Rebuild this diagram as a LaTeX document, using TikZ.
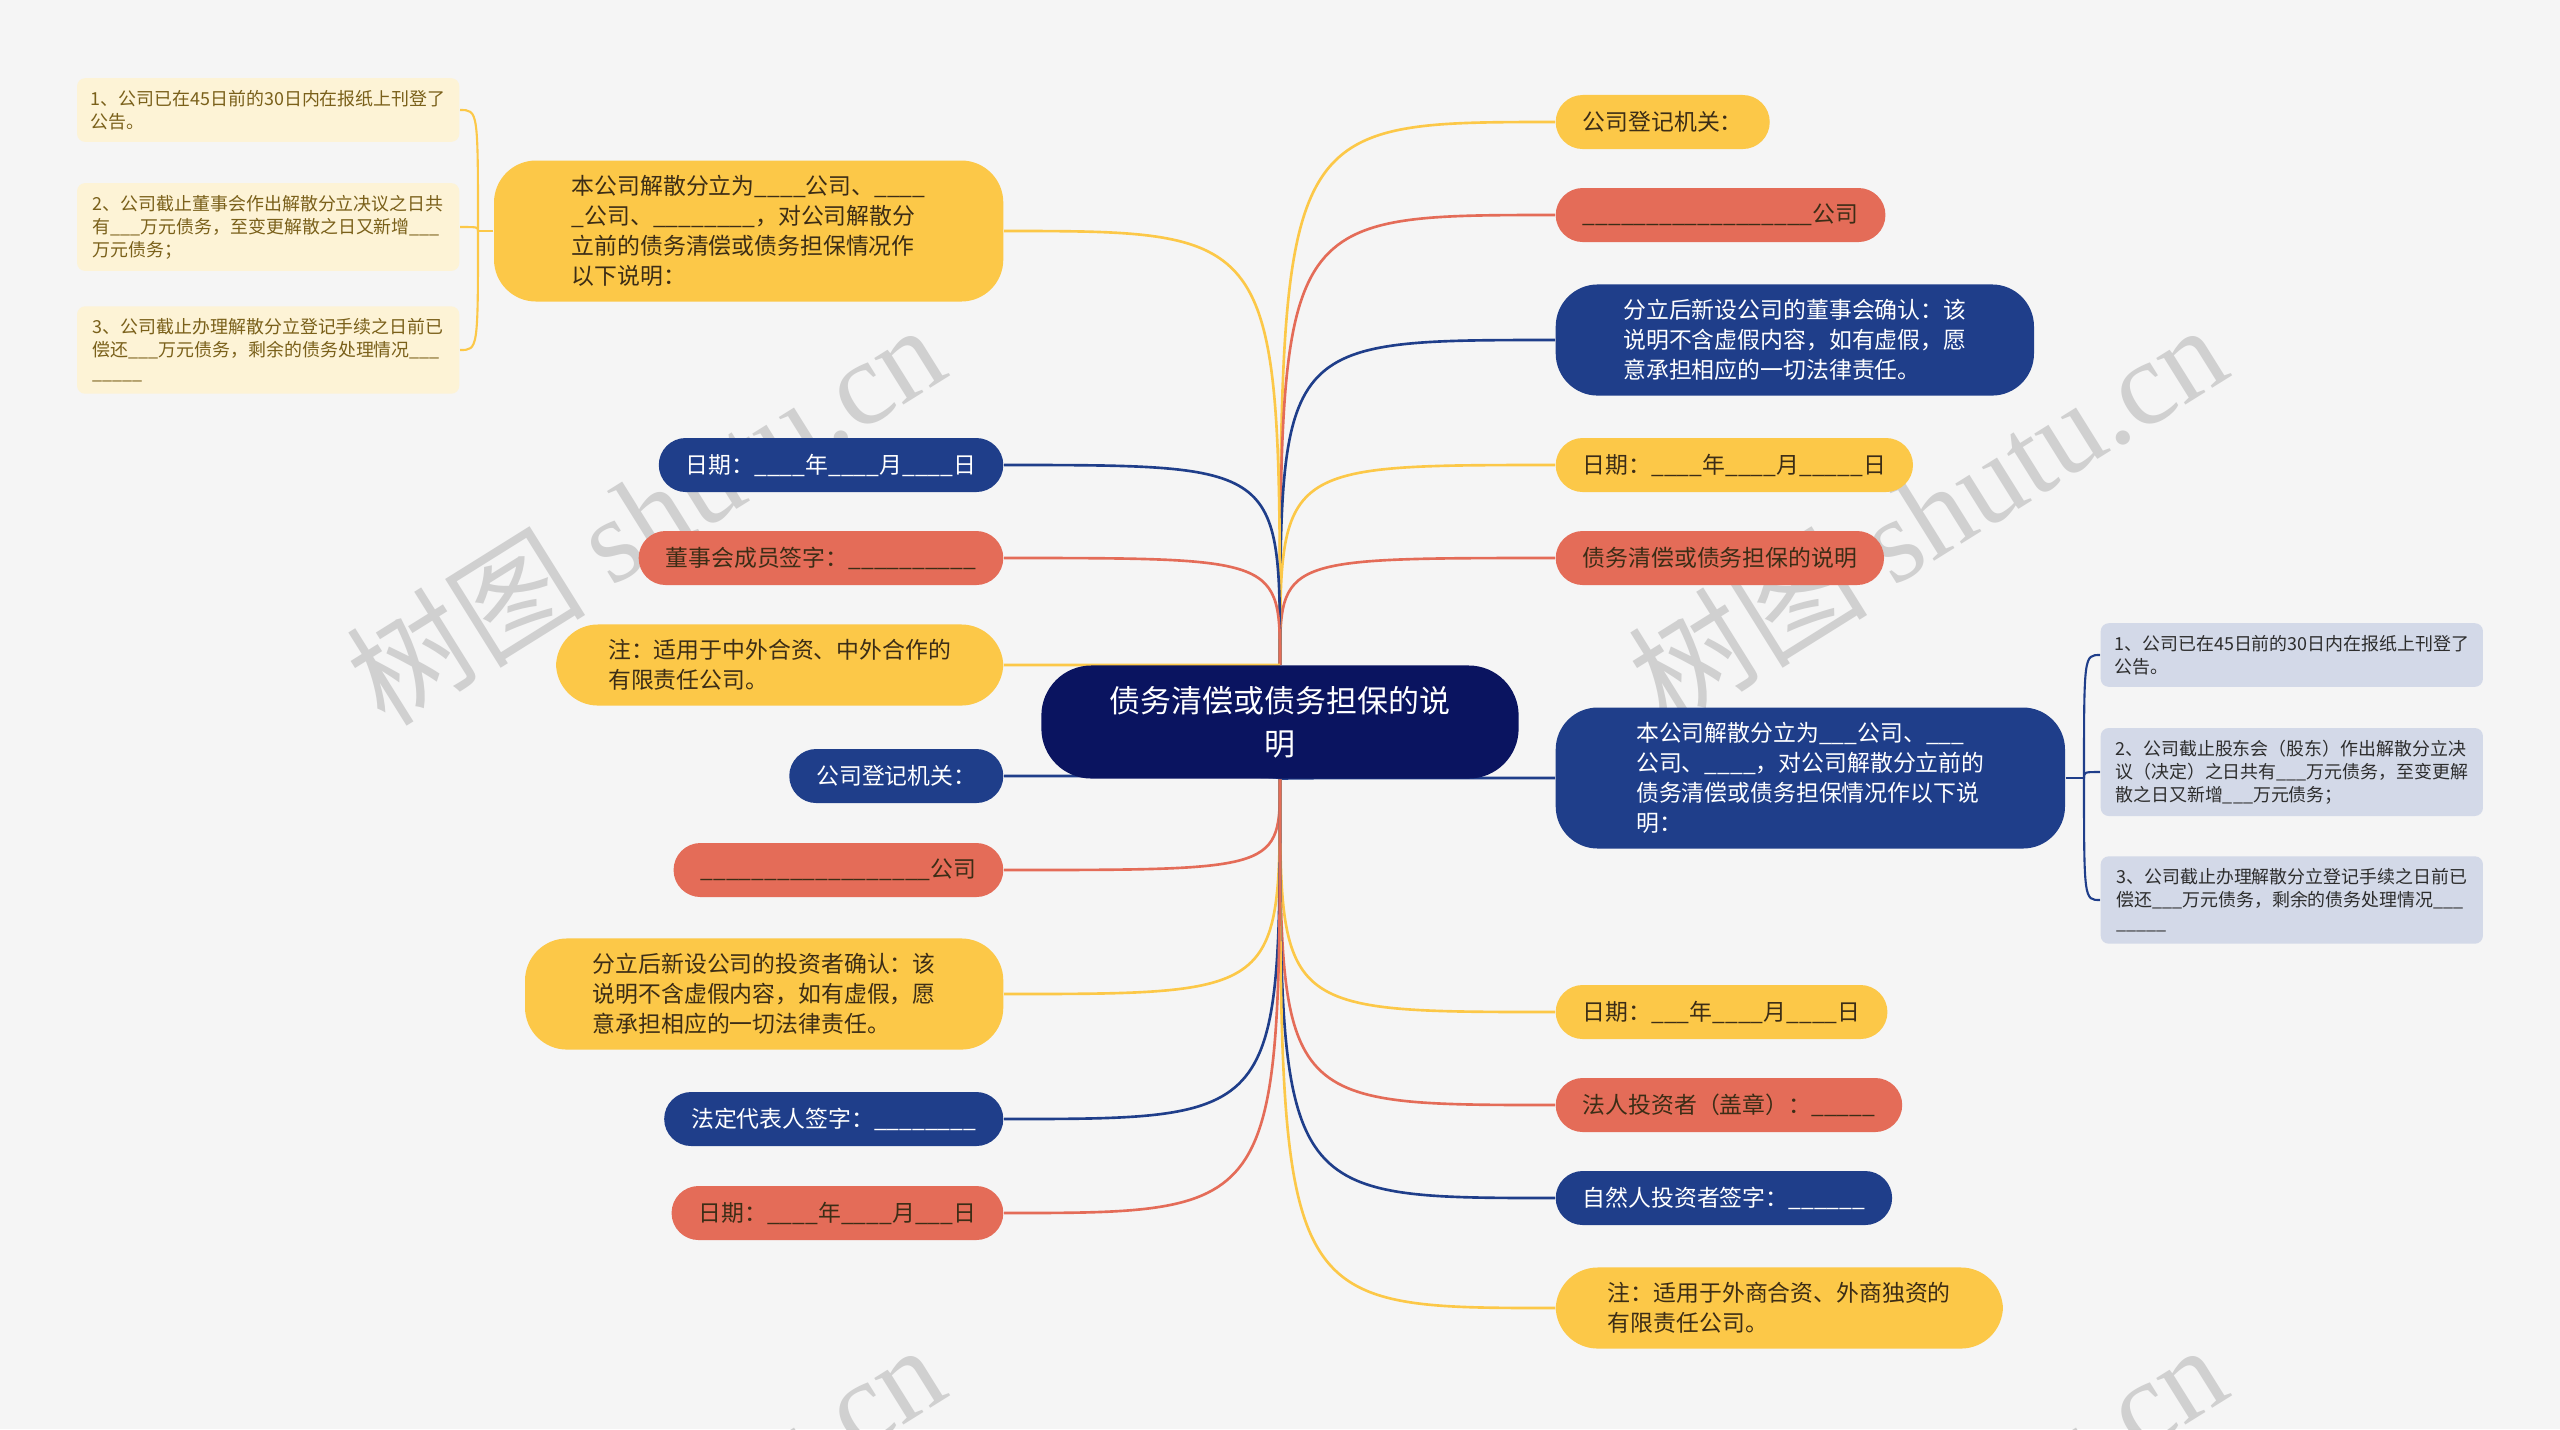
\documentclass[tikz,border=0pt]{standalone}
\usepackage{fontspec}
\setmainfont{Noto Sans CJK SC}
\newfontfamily\wmfont{Liberation Serif}
\usepackage{tikz}
\usetikzlibrary{positioning}
\usepackage{xcolor}
\definecolor{mmbg}{RGB}{245,245,245}
\definecolor{mmyellow}{RGB}{252,200,72}
\definecolor{mmred}{RGB}{228,108,88}
\definecolor{mmblue}{RGB}{31,62,138}
\definecolor{mmnavy}{RGB}{10,20,96}
\definecolor{mmcream}{RGB}{253,243,214}
\definecolor{mmpale}{RGB}{211,217,232}
\definecolor{mmink}{RGB}{60,45,22}
\definecolor{mmbrown}{RGB}{122,96,26}
\definecolor{mmgrey}{RGB}{45,45,45}
\definecolor{mmwm}{RGB}{208,208,208}

\pgfdeclarelayer{back}
\pgfsetlayers{back,main}

\newcommand\blank[1]{\foreach\k in {1,...,#1}{\_}}

\tikzset{
  topic/.style={rounded corners=0.27cm, minimum height=0.54cm, inner xsep=0.27cm, inner ysep=0.15cm,
    font=\fontsize{6.5}{8.5}\selectfont, align=left},
  ytopic/.style={topic, fill=mmyellow, text=mmink},
  rtopic/.style={topic, fill=mmred, text=mmink},
  btopic/.style={topic, fill=mmblue, text=white},
  multi/.style={rounded corners=0.42cm, inner xsep=0.5cm},
  subtopic/.style={rounded corners=0.08cm, inner xsep=0.12cm, inner ysep=0.12cm, minimum width=3.82cm,
    font=\fontsize{5.1}{6.5}\selectfont, align=left},
  link/.style={line width=0.75pt},
  sublink/.style={line width=0.6pt},
}

\begin{document}
\begin{tikzpicture}[x=0.01cm, y=-0.01cm]
\useasboundingbox (0,0) rectangle (2560,1429);

% Centre
\node[fill=mmnavy, text=white, rounded corners=0.5cm, minimum width=4.77cm, minimum height=1.13cm,
  align=center, font=\fontsize{8.8}{12.3}\selectfont] (C) at (1280,722) {债务清偿或债务担保的说\\明};

% Right side
\node[ytopic, anchor=west] (r1) at (1555,122) {公司登记机关：};
\node[rtopic, anchor=west] (r2) at (1555,215) {\blank{18}公司};
\node[btopic, multi, minimum width=4.78cm, anchor=west] (r3) at (1555,340)
  {分立后新设公司的董事会确认：该\\说明不含虚假内容，如有虚假，愿\\意承担相应的一切法律责任。};
\node[ytopic, anchor=west] (r4) at (1555,465) {日期：\blank4年\blank4月\blank5日};
\node[rtopic, anchor=west] (r5) at (1555,558) {债务清偿或债务担保的说明};
\node[btopic, multi, minimum width=5.09cm, anchor=west] (r6) at (1555,778)
  {本公司解散分立为\blank3公司、\blank3\\公司、\blank4，对公司解散分立前的\\债务清偿或债务担保情况作以下说\\明：};
\node[ytopic, anchor=west] (r7) at (1555,1012) {日期：\blank3年\blank4月\blank4日};
\node[rtopic, anchor=west] (r8) at (1555,1105) {法人投资者（盖章）：\blank5};
\node[btopic, anchor=west] (r9) at (1555,1198) {自然人投资者签字：\blank6};
\node[ytopic, multi, minimum width=4.47cm, anchor=west] (r10) at (1555,1308)
  {注：适用于外商合资、外商独资的\\有限责任公司。};

% Right details
\node[subtopic, fill=mmpale, text=mmgrey, anchor=west] (s1) at (2100,655)
  {1、公司已在45日前的30日内在报纸上刊登了\\公告。};
\node[subtopic, fill=mmpale, text=mmgrey, anchor=west] (s2) at (2100,772)
  {2、公司截止股东会（股东）作出解散分立决\\议（决定）之日共有\blank3万元债务，至变更解\\散之日又新增\blank3万元债务；};
\node[subtopic, fill=mmpale, text=mmgrey, anchor=west] (s3) at (2100,900)
  {3、公司截止办理解散分立登记手续之日前已\\偿还\blank3万元债务，剩余的债务处理情况\blank3\\\blank5};

% Left side
\node[ytopic, multi, minimum width=5.09cm, anchor=east] (l1) at (1004,231)
  {本公司解散分立为\blank4公司、\blank4\\\_公司、\blank8，对公司解散分\\立前的债务清偿或债务担保情况作\\以下说明：};
\node[btopic, anchor=east] (l2) at (1004,465) {日期：\blank4年\blank4月\blank4日};
\node[rtopic, anchor=east] (l3) at (1004,558) {董事会成员签字：\blank{10}};
\node[ytopic, multi, minimum width=4.47cm, anchor=east] (l4) at (1004,665)
  {注：适用于中外合资、中外合作的\\有限责任公司。};
\node[btopic, anchor=east] (l5) at (1004,776) {公司登记机关：};
\node[rtopic, anchor=east] (l6) at (1004,870) {\blank{18}公司};
\node[ytopic, multi, minimum width=4.78cm, anchor=east] (l7) at (1004,994)
  {分立后新设公司的投资者确认：该\\说明不含虚假内容，如有虚假，愿\\意承担相应的一切法律责任。};
\node[btopic, anchor=east] (l8) at (1004,1119) {法定代表人签字：\blank8};
\node[rtopic, anchor=east] (l9) at (1004,1213) {日期：\blank4年\blank4月\blank3日};

% Left details
\node[subtopic, fill=mmcream, text=mmbrown, anchor=east] (t1) at (460,110)
  {1、公司已在45日前的30日内在报纸上刊登了\\公告。};
\node[subtopic, fill=mmcream, text=mmbrown, anchor=east] (t2) at (460,227)
  {2、公司截止董事会作出解散分立决议之日共\\有\blank3万元债务，至变更解散之日又新增\blank3\\万元债务；};
\node[subtopic, fill=mmcream, text=mmbrown, anchor=east] (t3) at (460,350)
  {3、公司截止办理解散分立登记手续之日前已\\偿还\blank3万元债务，剩余的债务处理情况\blank3\\\blank5};

\begin{pgfonlayer}{back}
% Background and watermark
\fill[mmbg] (0,0) rectangle (2560,1429);
\begin{scope}
\clip (0,0) rectangle (2560,1429);
\foreach \wx/\wy in {645/513, 1927/513, 645/1533, 1927/1533}
  \node[rotate=32, text=mmwm, font=\fontsize{34}{38}\selectfont] at (\wx,\wy) {树图 {\wmfont shutu.cn}};
\end{scope}

% Branches
\foreach \n/\c in {r1/mmyellow, r2/mmred, r3/mmblue, r4/mmyellow, r5/mmred}
  \draw[link, \c] (C.north) .. controls (C.north |- \n.west) .. (\n.west);
\foreach \n/\c in {r6/mmblue, r7/mmyellow, r8/mmred, r9/mmblue, r10/mmyellow}
  \draw[link, \c] (C.south) .. controls (C.south |- \n.west) .. (\n.west);
\foreach \n/\c in {l1/mmyellow, l2/mmblue, l3/mmred, l4/mmyellow}
  \draw[link, \c] (C.north) .. controls (C.north |- \n.east) .. (\n.east);
\foreach \n/\c in {l5/mmblue, l6/mmred, l7/mmyellow, l8/mmblue, l9/mmred}
  \draw[link, \c] (C.south) .. controls (C.south |- \n.east) .. (\n.east);

% Detail brackets
\coordinate (jl) at (478,231);
\draw[sublink, mmyellow] (l1.west) -- (jl);
\foreach \s in {t1,t2,t3}
  \draw[sublink, mmyellow] (jl) .. controls (jl |- \s.east) .. (\s.east);
\coordinate (jr) at (2084,778);
\draw[sublink, mmblue] (r6.east) -- (jr);
\foreach \s in {s1,s2,s3}
  \draw[sublink, mmblue] (jr) .. controls (jr |- \s.west) .. (\s.west);
\end{pgfonlayer}
\end{tikzpicture}
\end{document}
